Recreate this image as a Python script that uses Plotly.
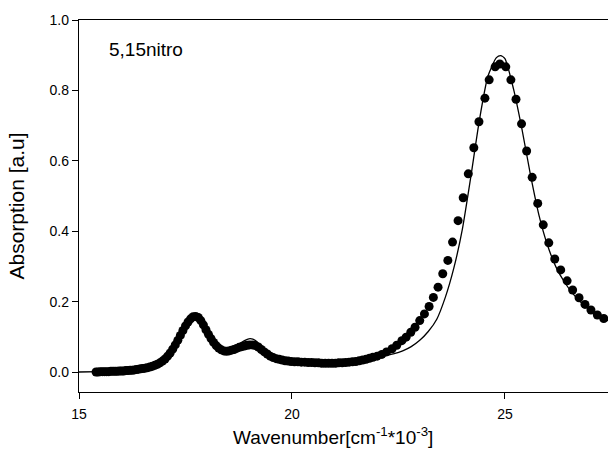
import plotly.graph_objects as go

# Measured absorption (markers)
meas_wn = [15.40, 15.45, 15.50, 15.55, 15.60, 15.65, 15.70, 15.75, 15.80, 15.85,
           15.90, 15.95, 16.00, 16.05, 16.10, 16.15, 16.20, 16.25, 16.30, 16.35,
           16.40, 16.45, 16.50, 16.55, 16.60, 16.66, 16.72, 16.78, 16.84, 16.90,
           16.96, 17.02, 17.08, 17.14, 17.20, 17.26, 17.32, 17.38, 17.44, 17.50,
           17.56, 17.62, 17.68, 17.74, 17.80, 17.86, 17.92, 17.98, 18.04, 18.10,
           18.16, 18.22, 18.28, 18.34, 18.40, 18.46, 18.52, 18.58, 18.64, 18.70,
           18.76, 18.82, 18.88, 18.94, 19.00, 19.07, 19.14, 19.21, 19.28, 19.35,
           19.42, 19.49, 19.56, 19.63, 19.70, 19.77, 19.84, 19.91, 19.98, 20.06,
           20.14, 20.22, 20.30, 20.38, 20.46, 20.54, 20.62, 20.70, 20.78, 20.86,
           20.94, 21.02, 21.10, 21.18, 21.26, 21.34, 21.42, 21.50, 21.58, 21.66,
           21.74, 21.82, 21.90, 22.00, 22.11, 22.22, 22.35, 22.46, 22.58, 22.68,
           22.79, 22.89, 23.00, 23.11, 23.22, 23.32, 23.43, 23.54, 23.66, 23.77,
           23.90, 24.02, 24.14, 24.27, 24.39, 24.53, 24.63, 24.77, 24.88, 25.02,
           25.14, 25.26, 25.39, 25.51, 25.64, 25.77, 25.90, 26.03, 26.17, 26.31,
           26.46, 26.59, 26.74, 26.88, 27.02, 27.17, 27.32]
meas_abs = [0.000, 0.000, 0.001, 0.001, 0.001, 0.001, 0.001, 0.002, 0.002, 0.002,
            0.002, 0.003, 0.003, 0.003, 0.004, 0.004, 0.005, 0.005, 0.006, 0.007,
            0.008, 0.009, 0.010, 0.011, 0.012, 0.014, 0.016, 0.019, 0.022, 0.026,
            0.031, 0.037, 0.045, 0.054, 0.065, 0.077, 0.090, 0.104, 0.118, 0.131,
            0.142, 0.151, 0.157, 0.158, 0.155, 0.146, 0.134, 0.120, 0.107, 0.095,
            0.084, 0.075, 0.068, 0.063, 0.060, 0.059, 0.060, 0.062, 0.064, 0.067,
            0.070, 0.072, 0.074, 0.076, 0.077, 0.077, 0.075, 0.071, 0.064, 0.057,
            0.051, 0.045, 0.041, 0.038, 0.036, 0.034, 0.032, 0.031, 0.030, 0.029,
            0.029, 0.028, 0.028, 0.027, 0.027, 0.026, 0.026, 0.025, 0.025, 0.025,
            0.025, 0.025, 0.026, 0.026, 0.027, 0.028, 0.029, 0.030, 0.032, 0.034,
            0.036, 0.039, 0.042, 0.045, 0.050, 0.057, 0.066, 0.076, 0.089, 0.099,
            0.113, 0.127, 0.146, 0.165, 0.186, 0.212, 0.241, 0.279, 0.317, 0.369,
            0.430, 0.495, 0.563, 0.637, 0.711, 0.778, 0.830, 0.867, 0.875, 0.867,
            0.830, 0.775, 0.705, 0.628, 0.553, 0.479, 0.418, 0.367, 0.321, 0.290,
            0.259, 0.233, 0.211, 0.192, 0.176, 0.162, 0.152]

# Fitted curve (solid line)
fit_wn = [15.00, 15.50, 16.00, 16.50, 16.80, 17.00, 17.20, 17.40, 17.60, 17.72,
          17.85, 18.00, 18.15, 18.30, 18.45, 18.60, 18.80, 18.95, 19.02, 19.15,
          19.30, 19.45, 19.60, 19.80, 20.00, 20.50, 21.00, 21.50, 22.00, 22.20,
          22.40, 22.60, 22.80, 23.00, 23.20, 23.40, 23.60, 23.80, 24.00, 24.20,
          24.40, 24.60, 24.80, 24.90, 25.00, 25.20, 25.40, 25.60, 25.80, 26.00,
          26.20, 26.40, 26.60, 26.80, 27.00, 27.20, 27.45]
fit_abs = [0.000, 0.001, 0.003, 0.009, 0.019, 0.033, 0.064, 0.106, 0.147, 0.158,
           0.148, 0.116, 0.085, 0.066, 0.060, 0.065, 0.083, 0.093, 0.095, 0.089,
           0.070, 0.052, 0.040, 0.033, 0.030, 0.027, 0.025, 0.030, 0.042, 0.047,
           0.052, 0.060, 0.072, 0.090, 0.115, 0.150, 0.212, 0.295, 0.405, 0.555,
           0.715, 0.840, 0.893, 0.899, 0.890, 0.805, 0.690, 0.560, 0.445, 0.360,
           0.298, 0.255, 0.222, 0.196, 0.175, 0.158, 0.145]

y_ticks = [0.0, 0.2, 0.4, 0.6, 0.8, 1.0]
x_ticks = [15, 20, 25]

FONT = "Liberation Sans, Arial, sans-serif"

fig = go.Figure()
fig.add_trace(go.Scatter(
    x=meas_wn, y=meas_abs, mode="markers",
    marker=dict(color="black", size=9, symbol="circle"),
    showlegend=False))
fig.add_trace(go.Scatter(
    x=fit_wn, y=fit_abs, mode="lines",
    line=dict(color="black", width=1.3, shape="spline", smoothing=0.6),
    showlegend=False))

fig.add_annotation(
    x=0.053, y=0.92, xref="paper", yref="paper", xanchor="left", yanchor="middle",
    text="5,15nitro", showarrow=False,
    font=dict(family=FONT, size=19, color="black"))

# x-axis title placed as a paper annotation (centred where the original sits)
fig.add_annotation(
    x=0.48, y=-0.118, xref="paper", yref="paper", xanchor="center", yanchor="middle",
    text="Wavenumber[cm<sup>-1</sup>*10<sup>-3</sup>]", showarrow=False,
    font=dict(family=FONT, size=19, color="black"))

fig.update_layout(
    width=608, height=458,
    margin=dict(l=79, r=0, t=20, b=66),
    paper_bgcolor="white", plot_bgcolor="white",
    font=dict(family=FONT, color="black"),
    xaxis=dict(
        range=[15, 27.42], tickvals=x_ticks, ticktext=[str(v) for v in x_ticks],
        showline=True, linecolor="black", linewidth=1.3, mirror=True,
        ticks="outside", ticklen=6, tickwidth=1.3, tickcolor="black",
        showgrid=False, zeroline=False, ticklabelstandoff=3,
        tickfont=dict(family=FONT, size=14)),
    yaxis=dict(
        range=[-0.0568, 1.0], tickvals=y_ticks,
        ticktext=[f"{v:.1f}" for v in y_ticks],
        showline=True, linecolor="black", linewidth=1.3,
        ticks="outside", ticklen=6, tickwidth=1.3, tickcolor="black",
        showgrid=False, zeroline=False,
        tickfont=dict(family=FONT, size=14),
        title=dict(text="Absorption [a.u]", font=dict(family=FONT, size=21), standoff=19)),
)

fig.write_html("out.html")
